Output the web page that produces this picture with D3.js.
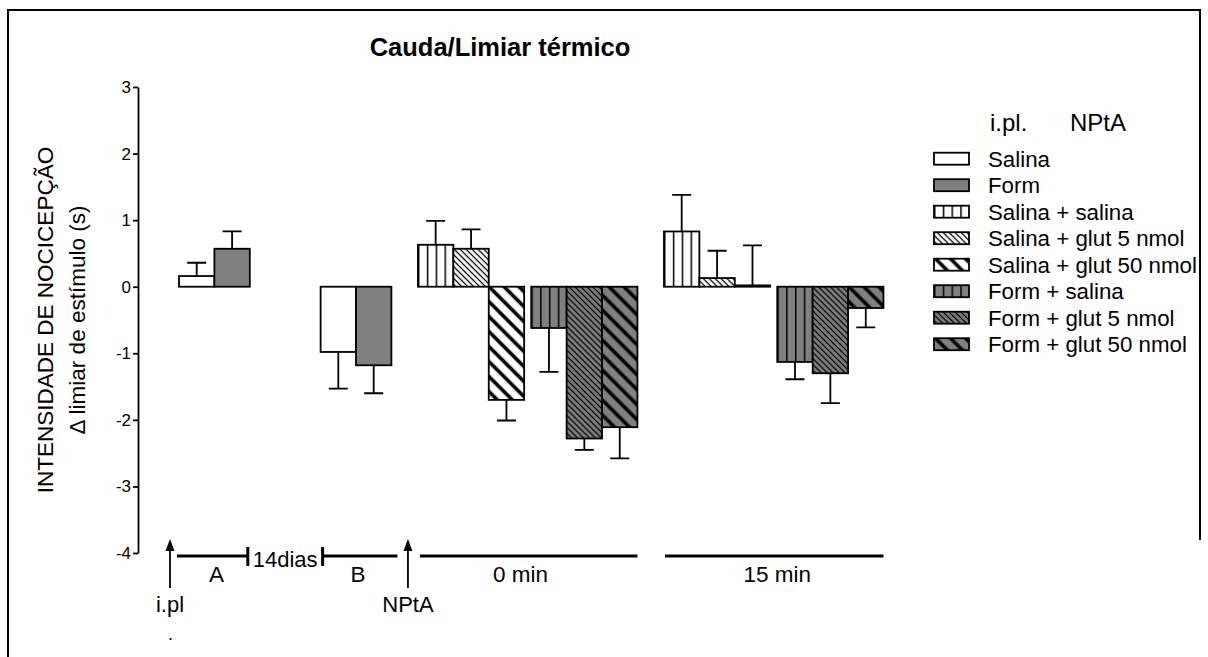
<!DOCTYPE html>
<html lang="pt">
<head>
  <meta charset="UTF-8">
  <title>Cauda/Limiar térmico</title>
  <script src="https://d3js.org/d3.v7.min.js"></script>
  <style>
    body { margin: 0; background: #fff; }
    svg { display: block; font-family: "Liberation Sans", Arial, sans-serif; }
    .bar { stroke: #000; stroke-width: 1.8px; }
    .err { stroke: #000; stroke-width: 1.8px; fill: none; }
    .tl { stroke: #000; stroke-width: 3px; }
  </style>
</head>
<body>
<div id="chart"></div>
<script>
  // ---------------- data ----------------
  const groupNames = ["A", "B", "0 min", "15 min"];
  const seriesNames = ["Salina", "Form", "Salina + salina", "Salina + glut 5 nmol",
    "Salina + glut 50 nmol", "Form + salina", "Form + glut 5 nmol", "Form + glut 50 nmol"];
  // which series appear in each group
  const groupSeries = [[0, 1], [0, 1], [2, 3, 4, 5, 6, 7], [2, 3, 4, 5, 6, 7]];
  const meanA = [0.16, 0.57];
  const semA = [0.20, 0.26];
  const meanB = [-0.98, -1.18];
  const semB = [0.55, 0.42];
  const mean0 = [0.63, 0.57, -1.70, -0.62, -2.28, -2.11];
  const sem0 = [0.36, 0.29, 0.31, 0.66, 0.17, 0.47];
  const mean15 = [0.83, 0.13, 0.02, -1.13, -1.30, -0.32];
  const sem15 = [0.55, 0.41, 0.60, 0.26, 0.45, 0.29];
  const yTicks = [3, 2, 1, 0, -1, -2, -3, -4];

  const means = [meanA, meanB, mean0, mean15];
  const sems = [semA, semB, sem0, sem15];

  // ---------------- setup ----------------
  const W = 1208, H = 657;
  const GRAY = "#808080";

  const svg = d3.select("#chart").append("svg")
    .attr("width", W).attr("height", H);

  const defs = svg.append("defs");

  // vertical lines, 4 tiles per bar
  function vPattern(id, bg) {
    const p = defs.append("pattern").attr("id", id)
      .attr("patternUnits", "objectBoundingBox")
      .attr("width", 0.25).attr("height", 1);
    p.append("rect").attr("width", 100).attr("height", 1000).attr("fill", bg);
    p.append("line").attr("x1", 0).attr("x2", 0).attr("y1", 0).attr("y2", 1000)
      .attr("stroke", "#000").attr("stroke-width", 3);
  }
  // "\" diagonal lines
  function dPattern(id, bg, gap, sw) {
    const p = defs.append("pattern").attr("id", id)
      .attr("patternUnits", "userSpaceOnUse")
      .attr("width", gap).attr("height", gap)
      .attr("patternTransform", "rotate(-45)");
    p.append("rect").attr("width", gap).attr("height", gap).attr("fill", bg);
    p.append("line").attr("x1", gap / 2).attr("x2", gap / 2).attr("y1", 0).attr("y2", gap)
      .attr("stroke", "#000").attr("stroke-width", sw);
  }
  vPattern("vW", "#fff");
  vPattern("vG", GRAY);
  dPattern("tW", "#fff", 4.2, 1.3);
  dPattern("tG", GRAY, 4.2, 1.3);
  dPattern("kW", "#fff", 10.6, 3.6);
  dPattern("kG", GRAY, 10.6, 3.6);

  const seriesFill = ["#fff", GRAY, "url(#vW)", "url(#tW)", "url(#kW)", "url(#vG)", "url(#tG)", "url(#kG)"];

  // ---------------- scales ----------------
  const y = d3.scaleLinear().domain([-4, 3]).range([553, 87]);
  // x in "bar slot" units
  const x = d3.scaleLinear().domain([0, 1]).range([179, 214.4]);
  const groupStart = [0, 4, 6.75, 13.7];
  const slotOf = (g, i) => groupStart[g] + i + (i >= 3 ? 0.2 : 0);
  const bw = x(1) - x(0);

  const bars = [];
  groupNames.forEach((g, gi) => {
    groupSeries[gi].forEach((s, i) => {
      bars.push({ group: g, series: s, slot: slotOf(gi, i), mean: means[gi][i], sem: sems[gi][i] });
    });
  });

  // ---------------- frame ----------------
  svg.append("path").attr("d", "M8,657 V10 H1200 V540")
    .attr("fill", "none").attr("stroke", "#000").attr("stroke-width", 2);

  // ---------------- title ----------------
  svg.append("text").attr("x", 500).attr("y", 56).attr("text-anchor", "middle")
    .attr("font-size", 25.5).attr("font-weight", "bold").text("Cauda/Limiar térmico");

  // ---------------- y axis ----------------
  const yAxis = svg.append("g").attr("transform", "translate(138,0)")
    .call(d3.axisLeft(y).tickValues(yTicks).tickSize(5).tickSizeOuter(0).tickPadding(2)
      .tickFormat(d => String(d)));
  yAxis.selectAll("path, line").attr("stroke", "#000").attr("stroke-width", 1.8);
  yAxis.selectAll("text").attr("font-size", 17).attr("fill", "#000")
    .attr("font-family", "'Liberation Sans', Arial, sans-serif");

  const yl = svg.append("g").attr("transform", "translate(0,320) rotate(-90)");
  yl.append("text").attr("x", 0).attr("y", 53).attr("text-anchor", "middle")
    .attr("font-size", 22.5).text("INTENSIDADE DE NOCICEPÇÃO");
  yl.append("text").attr("x", 0).attr("y", 85).attr("text-anchor", "middle")
    .attr("font-size", 22.5).text("Δ limiar de estímulo (s)");

  // ---------------- bars + errors ----------------
  const gBars = svg.append("g");
  gBars.selectAll("rect.bar").data(bars).join("rect")
    .attr("class", "bar")
    .attr("x", d => x(d.slot))
    .attr("width", bw)
    .attr("y", d => y(Math.max(0, d.mean)))
    .attr("height", d => Math.abs(y(d.mean) - y(0)))
    .attr("fill", d => seriesFill[d.series]);

  const capW = 9.5;
  const errTip = d => d.mean >= 0 ? d.mean + d.sem : d.mean - d.sem;
  gBars.selectAll("path.err").data(bars).join("path")
    .attr("class", "err")
    .attr("d", d => {
      const cx = x(d.slot) + bw / 2;
      const t = y(errTip(d));
      return `M${cx},${y(d.mean)} V${t} M${cx - capW},${t} H${cx + capW}`;
    });

  // ---------------- timeline at the bottom ----------------
  const tlY = 556;
  const tl = svg.append("g");
  function arrow(cx, label) {
    tl.append("line").attr("x1", cx).attr("x2", cx).attr("y1", 588).attr("y2", 548)
      .attr("stroke", "#000").attr("stroke-width", 1.8);
    tl.append("path").attr("d", `M${cx},539 L${cx - 4.5},551 L${cx + 4.5},551 Z`).attr("fill", "#000");
    tl.append("text").attr("x", cx).attr("y", 612).attr("text-anchor", "middle")
      .attr("font-size", 22).text(label);
  }
  arrow(x(0) - 9, "i.pl");
  arrow(x(groupStart[2]) - 10, "NPtA");
  tl.append("text").attr("x", x(0) - 11).attr("y", 640).attr("font-size", 18).text(".");

  const segs = [
    { a: x(0) - 2, b: x(2) - 2, label: "A", lx: x(1) + 2 },
    { a: x(4) + 2, b: x(6) + 6, label: "B", lx: x(5) + 2 },
    { a: x(groupStart[2]) + 2, b: x(groupStart[2] + 6.2), label: "0 min", lx: x(groupStart[2] + 2.9) },
    { a: x(groupStart[3]) + 1, b: x(groupStart[3] + 6.2), label: "15 min", lx: x(groupStart[3] + 3.2) }
  ];
  segs.forEach(s => {
    tl.append("line").attr("class", "tl").attr("x1", s.a).attr("x2", s.b).attr("y1", tlY).attr("y2", tlY);
    tl.append("text").attr("x", s.lx).attr("y", 582).attr("text-anchor", "middle")
      .attr("font-size", 22.5).text(s.label);
  });
  [segs[0].b, segs[1].a].forEach(px => {
    tl.append("line").attr("class", "tl").attr("x1", px).attr("x2", px).attr("y1", 547).attr("y2", 566);
  });
  tl.append("text").attr("x", (segs[0].b + segs[1].a) / 2).attr("y", 567).attr("text-anchor", "middle")
    .attr("font-size", 22).text("14dias");

  // ---------------- legend ----------------
  const lg = svg.append("g");
  lg.append("text").attr("x", 990).attr("y", 131).attr("font-size", 24).text("i.pl.");
  lg.append("text").attr("x", 1070).attr("y", 131).attr("font-size", 24).text("NPtA");
  const row = d3.scaleLinear().domain([0, 1]).range([158.7, 185.2]);
  const items = lg.selectAll("g.item").data(seriesNames).join("g")
    .attr("transform", (d, i) => `translate(934,${row(i)})`);
  items.append("rect").attr("class", "bar").attr("x", 0).attr("y", -6).attr("width", 35).attr("height", 12)
    .attr("fill", (d, i) => seriesFill[i]);
  items.append("text").attr("x", 54).attr("y", 8).attr("font-size", 22.3).text(d => d);
</script>
</body>
</html>
